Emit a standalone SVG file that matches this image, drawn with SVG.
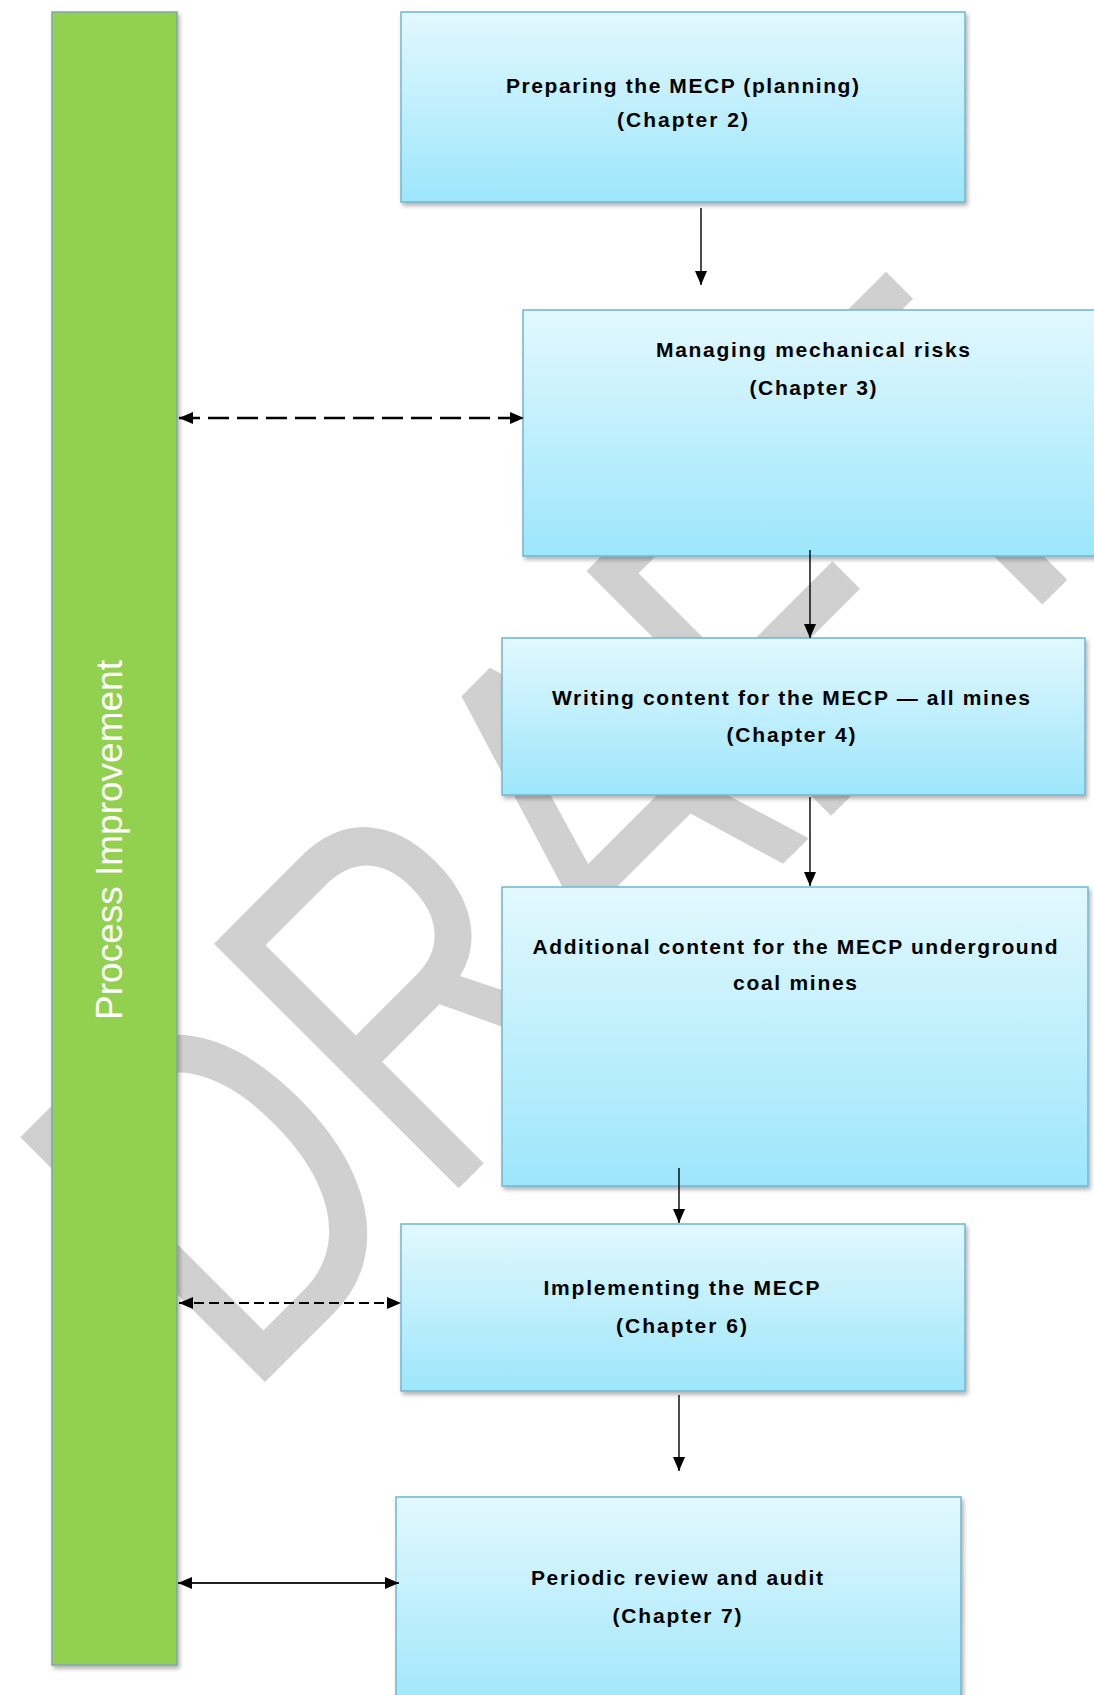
<svg xmlns="http://www.w3.org/2000/svg" width="1094" height="1695" viewBox="0 0 1094 1695">
  <style>
    .box { fill: url(#boxGrad); stroke: #6fb6cf; stroke-width: 1.5; filter: url(#shadow); }
    .lbl { font-family: "Liberation Sans", Arial, sans-serif; font-size: 21px; font-weight: bold; fill: #000; text-anchor: middle; }
    .conn { stroke: #000; stroke-width: 1.4; fill: none; }
    .dash1 { stroke: #000; stroke-width: 2.5; fill: none; stroke-dasharray: 21 8; }
    .dash2 { stroke: #000; stroke-width: 2; fill: none; stroke-dasharray: 10 5; }
    .solid2 { stroke: #222; stroke-width: 2.2; fill: none; }
  </style>
  <defs>
    <linearGradient id="boxGrad" x1="0" y1="0" x2="0" y2="1">
      <stop offset="0" stop-color="#e2f8fe"/>
      <stop offset="1" stop-color="#9de6fb"/>
    </linearGradient>
    <filter id="shadow" x="-5%" y="-5%" width="112%" height="115%">
      <feDropShadow dx="2" dy="3" stdDeviation="2" flood-color="#000" flood-opacity="0.3"/>
    </filter>
    <marker id="ah" viewBox="0 0 14 12" refX="14" refY="6" markerWidth="14" markerHeight="12" markerUnits="userSpaceOnUse" orient="auto-start-reverse">
      <path d="M0,0 L14,6 L0,12 z" fill="#000"/>
    </marker>
  </defs>

  <rect width="1094" height="1695" fill="#fff"/>

  <g id="watermark">
    <text transform="translate(243,1404) rotate(-45) scale(0.754,1)" font-family="Liberation Sans, Arial, sans-serif" font-size="503" fill="#d0d0d0">DRAFT</text>
  </g>

  <g id="process-improvement">
    <rect x="52" y="12" width="125" height="1653" fill="#92d050" stroke="#7ea6ad" stroke-width="1.5" filter="url(#shadow)"/>
    <text transform="translate(122,840) rotate(-90)" font-family="Liberation Sans, Arial, sans-serif" font-size="37" fill="#fff" text-anchor="middle">Process Improvement</text>
  </g>

  <g id="n1">
    <rect class="box" x="401" y="12" width="564" height="190"/>
    <text class="lbl" x="682.5" y="93" textLength="353" lengthAdjust="spacing">Preparing the MECP (planning)</text>
    <text class="lbl" x="682.5" y="127" textLength="131" lengthAdjust="spacing">(Chapter 2)</text>
  </g>

  <g id="n2">
    <rect class="box" x="523" y="310" width="580" height="246"/>
    <text class="lbl" x="813" y="357" textLength="314" lengthAdjust="spacing">Managing mechanical risks</text>
    <text class="lbl" x="813" y="395" textLength="127" lengthAdjust="spacing">(Chapter 3)</text>
  </g>

  <g id="n3">
    <rect class="box" x="502" y="638" width="583" height="157"/>
    <text class="lbl" x="791" y="705" textLength="478" lengthAdjust="spacing">Writing content for the MECP — all mines</text>
    <text class="lbl" x="791" y="742" textLength="129" lengthAdjust="spacing">(Chapter 4)</text>
  </g>

  <g id="n4">
    <rect class="box" x="502" y="887" width="586" height="299"/>
    <text class="lbl" x="795" y="954" textLength="525" lengthAdjust="spacing">Additional content for the MECP underground</text>
    <text class="lbl" x="795" y="990" textLength="124" lengthAdjust="spacing">coal mines</text>
  </g>

  <g id="n5">
    <rect class="box" x="401" y="1224" width="564" height="167"/>
    <text class="lbl" x="681.5" y="1295" textLength="276" lengthAdjust="spacing">Implementing the MECP</text>
    <text class="lbl" x="681.5" y="1332.5" textLength="131" lengthAdjust="spacing">(Chapter 6)</text>
  </g>

  <g id="n6">
    <rect class="box" x="396" y="1497" width="565" height="220"/>
    <text class="lbl" x="677" y="1585" textLength="292" lengthAdjust="spacing">Periodic review and audit</text>
    <text class="lbl" x="677" y="1623" textLength="129" lengthAdjust="spacing">(Chapter 7)</text>
  </g>

  <g id="connectors">
    <line class="conn" x1="701" y1="208" x2="701" y2="285" marker-end="url(#ah)"/>
    <line class="conn" x1="810" y1="550" x2="810" y2="638" marker-end="url(#ah)"/>
    <line class="conn" x1="810" y1="797" x2="810" y2="886" marker-end="url(#ah)"/>
    <line class="conn" x1="679" y1="1168" x2="679" y2="1223" marker-end="url(#ah)"/>
    <line class="conn" x1="679" y1="1395" x2="679" y2="1471" marker-end="url(#ah)"/>
    <line class="dash1" x1="179" y1="418" x2="524" y2="418" marker-start="url(#ah)" marker-end="url(#ah)"/>
    <line class="dash2" x1="179" y1="1303" x2="401" y2="1303" marker-start="url(#ah)" marker-end="url(#ah)"/>
    <line class="solid2" x1="178" y1="1583" x2="399" y2="1583" marker-start="url(#ah)" marker-end="url(#ah)"/>
  </g>
</svg>
